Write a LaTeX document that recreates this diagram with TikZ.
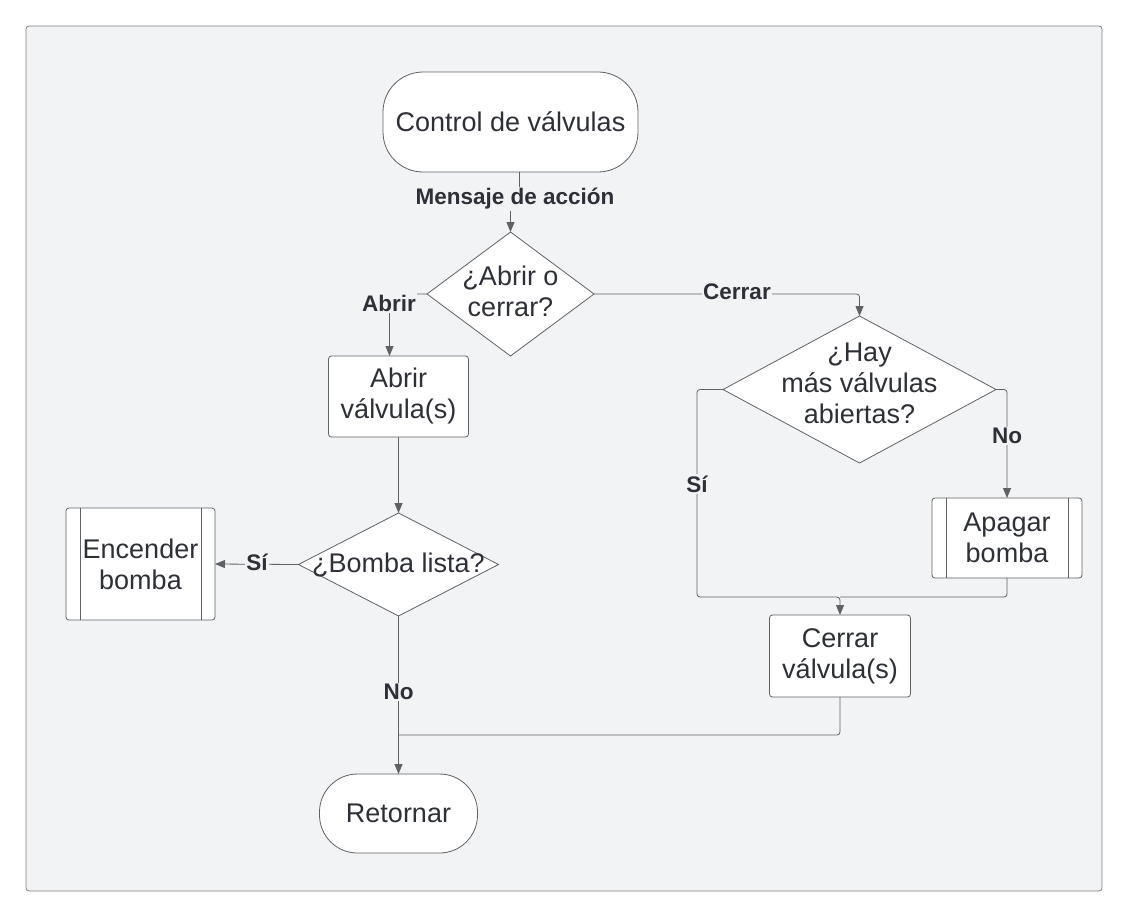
\documentclass[tikz,border=0pt]{standalone}
\usepackage{fontspec}
\setmainfont{Liberation Sans}
\usetikzlibrary{shapes.geometric,arrows.meta}
\definecolor{panel}{RGB}{242,243,245}
\definecolor{edge}{RGB}{95,97,100}
\definecolor{txt}{RGB}{45,48,54}
\begin{document}
\begin{tikzpicture}[x=1pt,y=-1pt,
  shp/.style={draw=edge, fill=white, line width=0.8pt, inner sep=0pt, outer sep=0pt,
    align=center, text=txt, font=\fontsize{27}{31}\selectfont},
  boxn/.style={shp, rounded corners=3pt},
  term/.style={shp},
  subp/.style={shp, rounded corners=3pt,
    path picture={\draw[edge, line width=0.8pt]
      ([xshift=14pt]path picture bounding box.north west) -- ([xshift=14pt]path picture bounding box.south west);
      \draw[edge, line width=0.8pt]
      ([xshift=-14pt]path picture bounding box.north east) -- ([xshift=-14pt]path picture bounding box.south east);}},
  dia/.style={shape=diamond, draw=edge, fill=white, line width=0.8pt, inner sep=0pt, outer sep=0pt},
  dtxt/.style={align=center, text=txt, inner sep=0pt, font=\fontsize{27}{31}\selectfont},
  conn/.style={draw=edge, line width=0.8pt, rounded corners=3pt},
  arr/.style={conn, -{Triangle[length=10pt,width=8pt]}},
  lab/.style={fill=panel, inner sep=1.5pt, text=txt, font=\bfseries\fontsize{22.5}{27}\selectfont}
]
\useasboundingbox (0,0) rectangle (1129,919);
\fill[white] (0,0) rectangle (1129,919);
\draw[draw=edge!80, fill=panel, line width=0.8pt, rounded corners=3pt] (26,26) rectangle (1102,891);

% nodes
\node[term, rounded corners=40pt, minimum width=255pt, minimum height=100pt] (start) at (510.5,122) {Control de válvulas};
\node[dia, minimum width=167pt, minimum height=124pt] (d1) at (510.5,294) {};
\node[dtxt, yshift=3pt] (d1t) at (d1) {¿Abrir o\\cerrar?};
\node[boxn, minimum width=140pt, minimum height=81pt] (a1) at (398.5,396.5) {Abrir\\válvula(s)};
\node[dia, minimum width=200pt, minimum height=103pt] (d2) at (398.5,564.5) {};
\node[dtxt] (d2t) at (d2) {¿Bomba lista?};
\node[subp, minimum width=149pt, minimum height=112pt] (enc) at (140.5,564) {Encender\\bomba};
\node[term, rounded corners=38pt, minimum width=158pt, minimum height=79pt] (ret) at (398.5,813.5) {Retornar};
\node[dia, minimum width=273pt, minimum height=147pt] (d3) at (859.5,389.5) {};
\node[dtxt, yshift=6pt] (d3t) at (d3) {¿Hay\\más válvulas\\abiertas?};
\node[subp, minimum width=150pt, minimum height=80pt] (ap) at (1007,538) {Apagar\\bomba};
\node[boxn, minimum width=141pt, minimum height=82pt] (cv) at (840,656) {Cerrar\\válvula(s)};

\coordinate (sj) at (697,597);
\coordinate (jn) at (840,597);
\coordinate (rj) at (398.5,735);

% connectors
\draw[arr] ([xshift=9pt]start.south) -- ++(0,27) -| (d1.north);
\draw[arr] (d1.west) -| ([xshift=-9pt]a1.north);
\draw[arr] (d1.east) -| (d3.north);
\draw[arr] (a1.south) -- (d2.north);
\draw[arr] (d2.west) -- (enc.east);
\draw[arr] (d2.south) -- (ret.north);
\draw[conn] (cv.south) |- (rj);
\draw[arr] (d3.west) -| (sj) -| (cv.north);
\draw[arr] (d3.east) -| (ap.north);
\draw[conn] (ap.south) |- (jn);

% labels
\node[lab] (lm) at (515,199) {Mensaje de acción};
\node[lab] (la) at (389,303) {Abrir};
\node[lab] (lc) at (737,292) {Cerrar};
\node[lab] (ls1) at (257,562) {Sí};
\node[lab] (ln1) at (398.5,692) {No};
\node[lab] (ls2) at (697,484) {Sí};
\node[lab] (ln2) at (1007,436) {No};
\end{tikzpicture}
\end{document}
